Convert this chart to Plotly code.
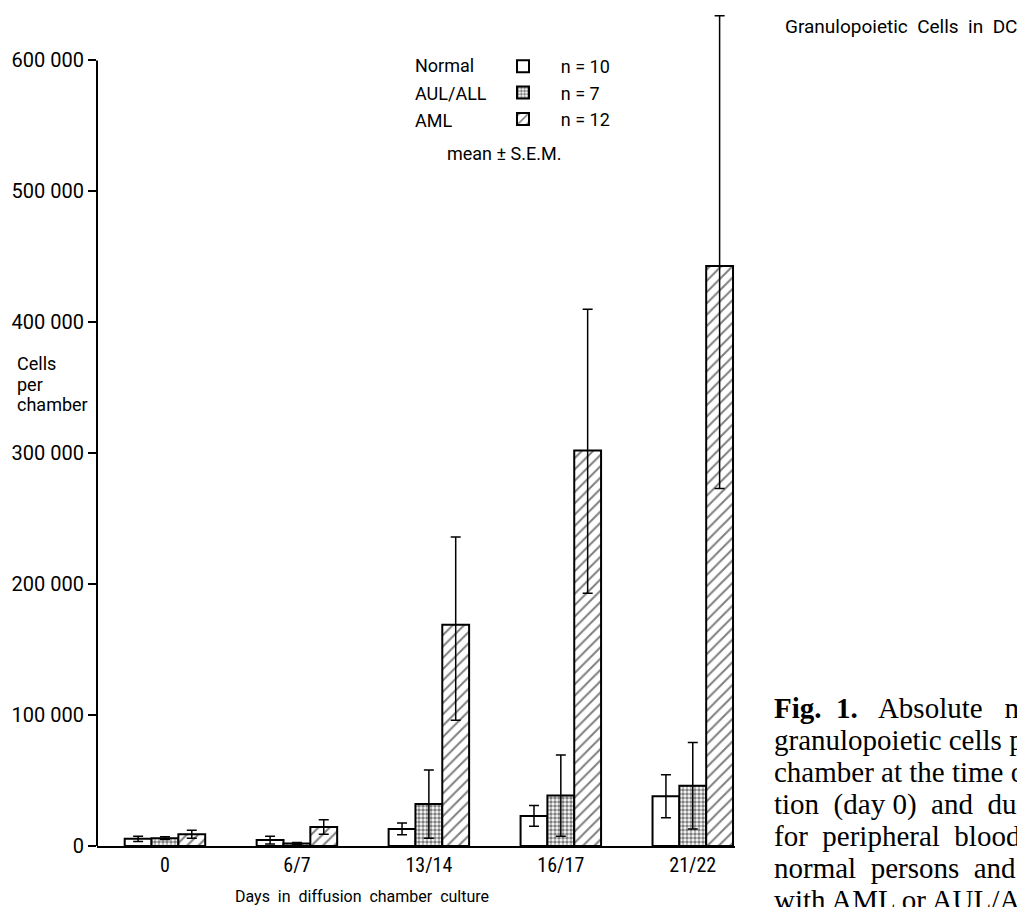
import plotly.graph_objects as go

# ---------------- data ----------------
days = ["0", "6/7", "13/14", "16/17", "21/22"]

normal_mean = [5500, 4500, 13000, 23000, 38000]
normal_sem_plus = [2000, 3000, 4500, 8000, 16500]
normal_sem_minus = [2000, 3000, 4500, 8000, 16500]

aul_mean = [6000, 2000, 32000, 38500, 46000]
aul_sem_plus = [1000, 700, 26000, 31000, 33000]
aul_sem_minus = [1000, 700, 26000, 31000, 33000]

aml_mean = [9000, 14500, 169000, 302000, 443000]
aml_sem_plus = [3000, 5500, 67000, 108000, 191000]
aml_sem_minus = [3000, 5500, 73000, 109000, 170000]

group_names = ["Normal", "AUL/ALL", "AML"]
group_n = ["n = 10", "n = 7", "n = 12"]

y_tick_vals = [0, 100000, 200000, 300000, 400000, 500000, 600000]
y_tick_text = ["0", "100 000", "200 000", "300 000", "400 000", "500 000", "600 000"]

y_title_lines = ["Cells", "per", "chamber"]

caption_lines = [
    "<b>Fig.  1.</b>   Absolute   numbers of",
    "granulopoietic cells per diffusion",
    "chamber at the time of inocula-",
    "tion  (day 0)  and  during  culture",
    "for  peripheral  blood  cells from",
    "normal  persons  and  patients",
    "with AML or AUL/ALL",
]

# ---------------- layout helpers ----------------
W, H = 1025, 907
L, R, T, B = 89, 298, 0, 69
PW, PH = W - L - R, H - T - B


def px(x):
    return (x - L) / PW


def py(y):
    return 1 - (y - T) / PH


SANS = "Roboto, DejaVu Sans, sans-serif"
NARROW = "Liberation Sans Narrow, Roboto Condensed, DejaVu Sans Condensed, Roboto, sans-serif"
BLACK = "#000000"

fig = go.Figure()

err_style = dict(type="data", symmetric=False, color=BLACK, thickness=1.5, width=5)

fig.add_trace(go.Bar(
    x=days, y=normal_mean, name="    " + group_n[0],
    marker=dict(color="white", line=dict(color=BLACK, width=2)),
    error_y=dict(array=normal_sem_plus, arrayminus=normal_sem_minus, **err_style),
))
fig.add_trace(go.Bar(
    x=days, y=aul_mean, name="    " + group_n[1],
    marker=dict(color="white", line=dict(color=BLACK, width=2),
                pattern=dict(shape=".", fgcolor=BLACK, bgcolor="white", size=4, solidity=0.6)),
    error_y=dict(array=aul_sem_plus, arrayminus=aul_sem_minus, **err_style),
))
fig.add_trace(go.Bar(
    x=days, y=aml_mean, name="    " + group_n[2],
    marker=dict(color="white", line=dict(color=BLACK, width=2),
                pattern=dict(shape="/", fgcolor=BLACK, bgcolor="white", size=8, solidity=0.25)),
    error_y=dict(array=aml_sem_plus, arrayminus=aml_sem_minus, **err_style),
))

annotations = []
# legend group names
for i, name in enumerate(group_names):
    annotations.append(dict(
        x=px(405), y=py(58 + 27 * i), xref="paper", yref="paper",
        text=name, showarrow=False, xanchor="left", yanchor="middle",
        font=dict(family=SANS, size=18, color=BLACK),
    ))
annotations.append(dict(
    x=px(496), y=py(145), xref="paper", yref="paper",
    text="mean ± S.E.M.", showarrow=False, xanchor="center", yanchor="middle",
    font=dict(family=SANS, size=18, color=BLACK),
))
# y-axis title (one line each)
for i, line in enumerate(y_title_lines):
    annotations.append(dict(
        x=px(7), y=py(356 + 20 * i), xref="paper", yref="paper",
        text=line, showarrow=False, xanchor="left", yanchor="middle",
        font=dict(family=SANS, size=18, color=BLACK),
    ))
# x-axis title
annotations.append(dict(
    x=px(354), y=py(888), xref="paper", yref="paper",
    text="Days  in  diffusion  chamber  culture", showarrow=False,
    xanchor="center", yanchor="middle",
    font=dict(family=SANS, size=16, color=BLACK),
))
# top-right title
annotations.append(dict(
    x=px(775), y=py(19), xref="paper", yref="paper",
    text="Granulopoietic  Cells  in  DC", showarrow=False,
    xanchor="left", yanchor="middle",
    font=dict(family=SANS, size=19, color=BLACK),
))
# caption
for i, line in enumerate(caption_lines):
    annotations.append(dict(
        x=px(764), y=py(700 + 32 * i), xref="paper", yref="paper",
        text=line, showarrow=False, xanchor="left", yanchor="middle",
        font=dict(family="Liberation Serif, serif", size=29, color=BLACK),
    ))

shapes = [
    # y-axis line up to the top tick
    dict(type="line", xref="paper", yref="y", x0=0, x1=0, y0=0, y1=y_tick_vals[-1],
         line=dict(color=BLACK, width=2)),
]

fig.update_layout(
    width=W, height=H,
    margin=dict(l=L, r=R, t=T, b=B, pad=0),
    paper_bgcolor="white", plot_bgcolor="white",
    barmode="group", bargap=0.39, bargroupgap=0,
    showlegend=True,
    legend=dict(
        x=px(495), y=py(40), xanchor="left", yanchor="top",
        bgcolor="rgba(0,0,0,0)", borderwidth=0,
        font=dict(family=SANS, size=18, color=BLACK),
        tracegroupgap=0, itemclick=False,
    ),
    annotations=annotations,
    shapes=shapes,
    xaxis=dict(
        range=[-0.515, 4.32], showline=True, linecolor=BLACK, linewidth=2,
        ticks="", showgrid=False, zeroline=False,
        tickfont=dict(family=NARROW, size=20, color=BLACK),
    ),
    yaxis=dict(
        range=[0, 640000], showline=False, showgrid=False, zeroline=False,
        tickmode="array", tickvals=y_tick_vals, ticktext=y_tick_text,
        ticks="outside", ticklen=8, tickwidth=2, tickcolor=BLACK,
        tickfont=dict(family=SANS, size=20, color=BLACK),
    ),
)

fig.write_html("out.html")
